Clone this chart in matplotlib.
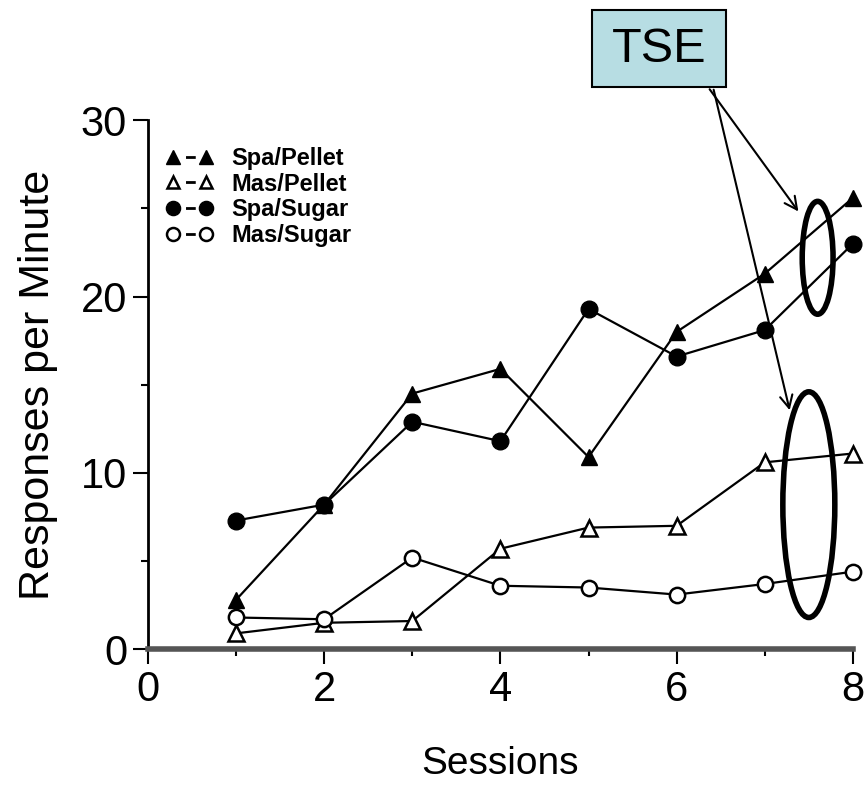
import matplotlib.pyplot as plt
from matplotlib.patches import Ellipse, FancyBboxPatch
from matplotlib.lines import Line2D

plt.rcParams['font.family'] = ['Liberation Sans', 'DejaVu Sans']

# dados
sessoes = [1, 2, 3, 4, 5, 6, 7, 8]
spa_pellet = [2.8, 8.2, 14.5, 15.9, 10.9, 18.0, 21.3, 25.6]
mas_pellet = [0.9, 1.5, 1.6, 5.7, 6.9, 7.0, 10.6, 11.1]
spa_sugar = [7.3, 8.2, 12.9, 11.8, 19.3, 16.6, 18.1, 23.0]
mas_sugar = [1.8, 1.7, 5.2, 3.6, 3.5, 3.1, 3.7, 4.4]

nomes = ['Spa/Pellet', 'Mas/Pellet', 'Spa/Sugar', 'Mas/Sugar']
x_ticks = [0, 2, 4, 6, 8]
y_ticks = [0, 10, 20, 30]

fig = plt.figure(figsize=(8.65, 7.86), dpi=100)
ax = fig.add_axes([0.171, 0.174, 0.815, 0.673])

estilos = [
    dict(marker='^', ms=12, mfc='black', mec='black', mew=1),
    dict(marker='^', ms=11, mfc='white', mec='black', mew=1.8),
    dict(marker='o', ms=12, mfc='black', mec='black', mew=1),
    dict(marker='o', ms=11, mfc='white', mec='black', mew=1.8),
]

for serie, nome, st in zip([spa_pellet, mas_pellet, spa_sugar, mas_sugar], nomes, estilos):
    ax.plot(sessoes, serie, color='black', lw=1.6, clip_on=False, zorder=3, **st)

ax.set_xlim(0, 8)
ax.set_ylim(0, 30)
ax.set_xticks(x_ticks)
ax.set_yticks(y_ticks)
ax.set_xticks([1, 3, 5, 7], minor=True)
ax.set_yticks([5, 15, 25], minor=True)
ax.tick_params(which='major', direction='out', length=11, width=1.5, labelsize=30, pad=4)
ax.tick_params(which='minor', direction='out', length=5, width=1.5)

for lado in ['top', 'right']:
    ax.spines[lado].set_visible(False)
ax.spines['left'].set_linewidth(2)
ax.spines['bottom'].set_linewidth(4)
ax.spines['bottom'].set_color('#555555')

ax.set_xlabel('Sessions', fontsize=28, labelpad=26)
ax.set_ylabel('Responses per Minute', fontsize=31, labelpad=16)

# legenda com traço curto entre os marcadores
handles = []
for st in estilos:
    st_leg = dict(st)
    st_leg['ms'] = st['ms'] * 0.85
    handles.append(Line2D([], [], color='black', lw=2, ls=(0, (0.01, 4.5, 3.5, 100)), **st_leg))
ax.legend(handles, nomes, loc='upper left', bbox_to_anchor=(-0.005, 0.99), frameon=False,
          numpoints=2, handlelength=2.0, handletextpad=0.8, labelspacing=0.12,
          prop={'size': 17, 'weight': 'bold'})

# caixa TSE e anotações
fig.patches.append(FancyBboxPatch((592 / 865, 1 - 87 / 786), 134 / 865, 77 / 786,
                                  boxstyle='square,pad=0', transform=fig.transFigure,
                                  facecolor='#b7dde3', edgecolor='black', lw=1.5))
fig.text(659 / 865, 1 - 49 / 786, 'TSE', fontsize=35, ha='center', va='center')

ax.add_patch(Ellipse((7.6, 22.2), 0.35, 6.4, fill=False, lw=4, edgecolor='black', clip_on=False, zorder=5))
ax.add_patch(Ellipse((7.5, 8.2), 0.59, 12.8, fill=False, lw=4, edgecolor='black', clip_on=False, zorder=5))

seta = dict(arrowstyle='->,head_length=0.9,head_width=0.45', lw=1.5, color='black')
ax.annotate('', xy=(7.4, 24.7), xytext=(708 / 865, 1 - 87 / 786),
            textcoords='figure fraction', arrowprops=seta, annotation_clip=False)
ax.annotate('', xy=(7.29, 13.4), xytext=(713 / 865, 1 - 87 / 786),
            textcoords='figure fraction', arrowprops=seta, annotation_clip=False)

fig.savefig('out.png', dpi=100)
